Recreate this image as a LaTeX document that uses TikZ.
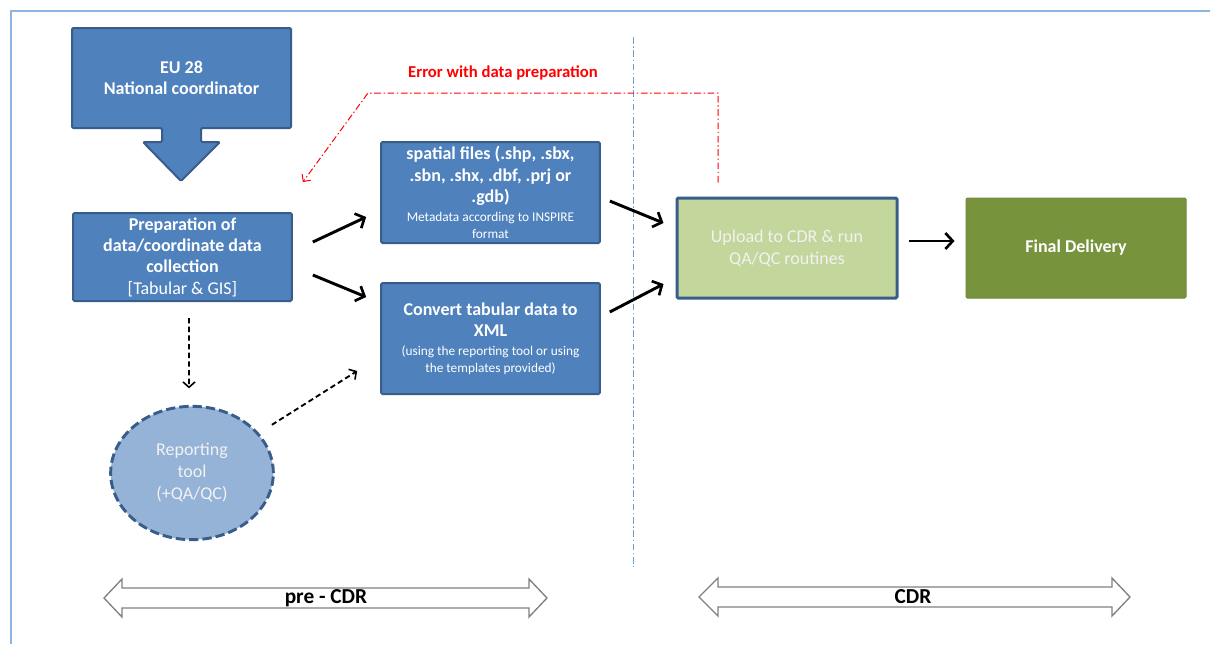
\documentclass[tikz,border=0pt]{standalone}
\usepackage{fontspec}
\setmainfont{Carlito}
\usetikzlibrary{arrows.meta,shapes.geometric}
\definecolor{boxblue}{HTML}{4F81BD}
\definecolor{edgeblue}{HTML}{385D8A}
\definecolor{uploadgreen}{HTML}{C3D69B}
\definecolor{finalgreen}{HTML}{77933C}
\definecolor{finaledge}{HTML}{71893F}
\definecolor{toolblue}{HTML}{95B3D7}
\definecolor{frameblue}{HTML}{8EB4E3}
\definecolor{splitblue}{HTML}{6A9EDC}
\newcommand{\note}[1]{{\fontsize{10}{12}\selectfont\mdseries #1}}
\begin{document}
\begin{tikzpicture}
	[x=0.75pt,y=-0.75pt,
	 bluebox/.style={draw=edgeblue,line width=1.5pt,fill=boxblue,text=white,align=center,
	   minimum width=164pt,inner sep=1pt,rounded corners=1pt,
	   font=\fontsize{13.5}{16}\selectfont\bfseries},
	 boxtext/.style={text=white,align=center,font=\fontsize{13.5}{16}\selectfont\bfseries},
	 flow/.style={line width=2.2pt,-{Straight Barb[length=5.5pt,width=12pt,line width=2pt]}},
	 dashflow/.style={line width=1.4pt,dash pattern=on 4pt off 2.5pt,-{Straight Barb[length=4pt,width=9pt,line width=1.2pt]}},
	 spanarrow/.style={draw=black!50,line width=1pt,fill=white},
	 spantext/.style={font=\fontsize{16}{18}\selectfont\bfseries}]
	\useasboundingbox (0,0) rectangle (1210,644);
	% frame and pre-CDR / CDR split
	\draw[frameblue,line width=1.5pt] (11,644) -- (11,11) -- (1210,11);
	\draw[splitblue,line width=0.7pt,dash pattern=on 5pt off 2pt on 1pt off 2pt] (633,37) -- (633,567);
	% coordinator with its down arrow
	\draw[draw=edgeblue,line width=1.5pt,fill=boxblue,rounded corners=1pt]
	  (72,28) -- (291,28) -- (291,128) -- (201,128) -- (201,142) -- (220,142) -- (181,181)
	  -- (143,142) -- (162,142) -- (162,128) -- (72,128) -- cycle;
	\node[boxtext] (eu) at (181.5,78) {EU 28\\National coordinator};
	% boxes
	\node[bluebox,minimum height=66pt] (prep) at (182.5,257)
	  {Preparation of\\data/coordinate data\\collection\\\mdseries [Tabular \& GIS]};
	\node[bluebox,minimum height=75.75pt] (spatial) at (490.5,192.5)
	  {spatial files (.shp, .sbx,\\.sbn, .shx, .dbf, .prj or\\.gdb)\\[-2pt]\note{Metadata according to INSPIRE}\\[-3pt]\note{format}};
	\node[bluebox,minimum height=83.25pt] (convert) at (490.5,338.5)
	  {Convert tabular data to\\XML\\[-2pt]\note{(using the reporting tool or using}\\[-3pt]\note{the templates provided)}};
	\node[draw=edgeblue,line width=2.25pt,fill=uploadgreen,text=black!5,align=center,
	  minimum width=165pt,minimum height=75pt,rounded corners=1pt,
	  font=\fontsize{13.5}{16.5}\selectfont] (upload) at (787,248) {Upload to CDR \& run\\QA/QC routines};
	\node[draw=finaledge,line width=0.75pt,fill=finalgreen,text=white,
	  minimum width=165pt,minimum height=75pt,rounded corners=1pt,
	  font=\fontsize{13.5}{16}\selectfont\bfseries] (final) at (1076,248) {Final Delivery};
	\node[ellipse,draw=edgeblue,line width=2.2pt,dash pattern=on 7pt off 3pt,fill=toolblue,
	  text=black!5,align=center,minimum width=122pt,minimum height=100pt,inner sep=0pt,
	  font=\fontsize{13.5}{16.5}\selectfont] (tool) at (192,473) {Reporting\\tool\\(+QA/QC)};
	% flow
	\path[flow]
	  ([xshift=15pt,yshift=11.25pt]prep.east) edge ([xshift=-10.5pt,yshift=20.25pt]spatial.south west)
	  ([xshift=15pt,yshift=-13.5pt]prep.east) edge ([xshift=-10.5pt,yshift=-11.25pt]convert.north west)
	  ([xshift=6.75pt,yshift=-6.4pt]spatial.east) edge ([xshift=-9pt,yshift=18.75pt]upload.west)
	  ([xshift=6.75pt,yshift=19.9pt]convert.east) edge ([xshift=-9pt,yshift=-27pt]upload.west)
	  ([xshift=7.5pt,yshift=5.25pt]upload.east) edge ([xshift=-8.25pt,yshift=5.25pt]final.west);
	\path[dashflow]
	  ([xshift=4.9pt,yshift=-12pt]prep.south) edge ([xshift=-2.25pt,yshift=12.4pt]tool.north)
	  ([xshift=16pt]tool.north east) edge ([xshift=-17.25pt,yshift=18pt]convert.south west);
	% error loop back
	\coordinate (bend) at (368,93);
	\draw[red,line width=0.75pt,dash pattern=on 5pt off 2pt on 1pt off 2pt,
	  -{Straight Barb[length=4pt,width=8pt,line width=0.75pt]}]
	  ([xshift=-51.75pt,yshift=10.5pt]upload.north) |- (bend) -- ([xshift=7.5pt,yshift=22.5pt]prep.north east);
	\node[red,font=\fontsize{12.5}{14}\selectfont\bfseries] (error) at (503,73) {Error with data preparation};
	% phases
	\draw[spanarrow] (104,598) -- (122,579) -- (122,588) -- (529,588) -- (529,579) -- (547,598)
	  -- (529,617) -- (529,608) -- (122,608) -- (122,617) -- cycle;
	\node[spantext] (precdr) at (326,598) {pre - CDR};
	\draw[spanarrow] (699,597) -- (718,578) -- (718,587) -- (1112,587) -- (1112,578) -- (1130,597)
	  -- (1112,616) -- (1112,607) -- (718,607) -- (718,616) -- cycle;
	\node[spantext] (cdr) at (913,597) {CDR};
\end{tikzpicture}
\end{document}
